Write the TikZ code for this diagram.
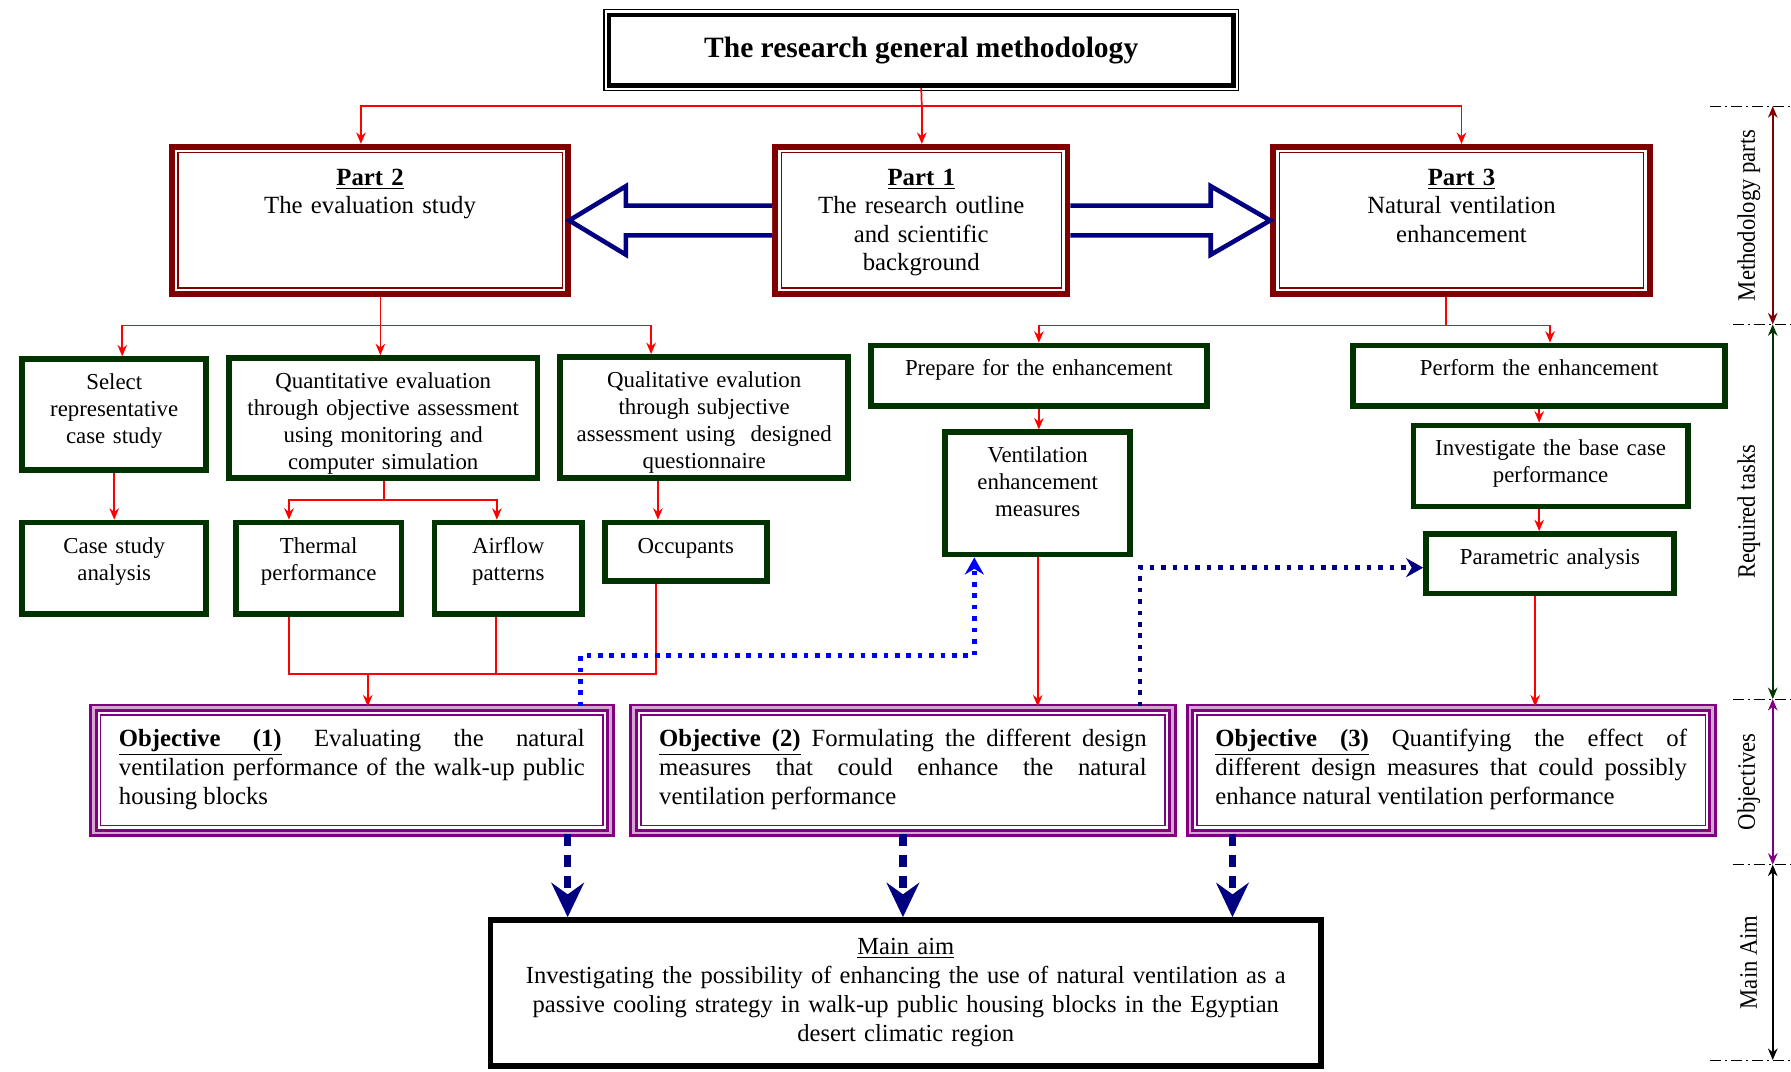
\documentclass[tikz,border=0pt]{standalone}
\usepackage{fontspec}
\setmainfont{Liberation Serif}
\newfontfamily\sidefont[FakeStretch=0.9]{Liberation Serif}
\usetikzlibrary{arrows.meta,calc}

\definecolor{partred}{RGB}{128,0,0}
\definecolor{taskgreen}{RGB}{0,51,0}
\definecolor{objpurple}{RGB}{128,0,128}
\definecolor{arrnavy}{RGB}{0,0,128}
\definecolor{linkred}{RGB}{255,0,0}
\definecolor{dotblue}{RGB}{0,0,255}

% underlined stretchable gap inside "Objective (n)"
\newcommand{\ulgap}{\leaders\hbox{\underline{\vphantom{(j}\hskip0.1pt}}%
    \hskip\fontdimen2\font plus\fontdimen3\font minus\fontdimen4\font}
\newcommand{\objtag}[1]{\textbf{\underline{Objective\vphantom{(}}\ulgap\underline{(#1)\vphantom{j}}}}

\tikzset{
    titlebox/.style={draw=black, line width=2.4pt, inner sep=0pt,
        font=\fontsize{15.5}{18}\selectfont\bfseries},
    partbox/.style={draw=partred, line width=3pt, inner sep=0pt, align=center,
        font=\fontsize{13}{15}\selectfont, text height=20.2pt,
        path picture={\draw[partred, line width=0.6pt]
            ([shift={(3.2pt,-3.2pt)}]path picture bounding box.north west) rectangle
            ([shift={(-3.2pt,3.2pt)}]path picture bounding box.south east);}},
    taskbox/.style={draw=taskgreen, line width=3pt, inner sep=0pt, align=center,
        font=\fontsize{12}{14.2}\selectfont, text height=16pt},
    objbox/.style={draw=objpurple, line width=1.5pt, double=objpurple!35, double distance=1.5pt,
        inner xsep=13.4pt, inner ysep=0pt, align=justify,
        font=\fontsize{13}{15.3}\selectfont, text height=20.3pt,
        path picture={\draw[objpurple, line width=0.8pt]
            ([shift={(3.8pt,-3.8pt)}]path picture bounding box.north west) rectangle
            ([shift={(-3.8pt,3.8pt)}]path picture bounding box.south east);}},
    aimbox/.style={draw=black, line width=3pt, inner sep=0pt, align=center,
        font=\fontsize{12.9}{15.2}\selectfont, text height=18pt},
    sz/.style 2 args={text width=#1, text depth=#2},
    link/.style={draw=linkred, line width=0.9pt},
    linkarr/.style={link, -{Stealth[length=6pt,width=5pt]}},
    hollow/.style={draw=arrnavy, line width=2.4pt, fill=white, line join=miter},
    dotlink/.style={line width=2.4pt, dash pattern=on 2.4pt off 3.6pt,
        -{Stealth[length=9pt,width=10pt,inset=3pt]}},
    aimlink/.style={draw=arrnavy, line width=4pt, dash pattern=on 6pt off 5pt,
        -{Stealth[length=18pt,width=17pt,inset=6pt]}},
    sidearr/.style={line width=1.2pt,
        {Stealth[length=6pt,width=5pt]}-{Stealth[length=6pt,width=5pt]}},
    sidelbl/.style={rotate=90, inner sep=0pt, font=\sidefont\fontsize{13.2}{15}\selectfont},
    level/.style={draw=black, line width=0.5pt, dash pattern=on 6pt off 2pt on 1pt off 2pt},
}

\begin{document}
\begin{tikzpicture}[x=0.6pt, y=-0.6pt]

    \fill[white] (0,0) rectangle (1568,938);
    \useasboundingbox (0,0) rectangle (1568,938);

    % Title
    \node[titlebox, minimum width=328pt, minimum height=37.2pt] (title) at (806.5,44)
        {The research general methodology};
    \draw[line width=0.6pt] ([shift={(-1.4pt,1.4pt)}]title.north west)
        rectangle ([shift={(1.4pt,-1.4pt)}]title.south east);

    % Methodology parts
    \node[partbox, sz={208.2pt}{57.2pt}] (p2) at (324,193)
        {\textbf{\underline{Part 2}}\\The evaluation study};
    \node[partbox, sz={153.6pt}{57.2pt}] (p1) at (806.5,193)
        {\textbf{\underline{Part 1}}\\The research outline\\and scientific\\background};
    \node[partbox, sz={198pt}{57.2pt}] (p3) at (1279.5,193)
        {\textbf{\underline{Part 3}}\\Natural ventilation\\enhancement};

    % Required tasks
    \node[taskbox, sz={96.6pt}{42.2pt}] (sel) at (100,363) {Select\\representative\\case study};
    \node[taskbox, sz={162pt}{47pt}] (quant) at (335.5,366)
        {Quantitative evaluation\\through objective assessment\\using monitoring and\\computer simulation};
    \node[taskbox, sz={151.2pt}{47.6pt}] (qual) at (616.5,365.5)
        {Qualitative evalution\\through subjective\\assessment using\ \ designed\\questionnaire};
    \node[taskbox, sz={96.6pt}{32pt}] (case) at (100,497.5) {Case study\\analysis};
    \node[taskbox, sz={87pt}{32pt}] (therm) at (279,497.5) {Thermal\\performance};
    \node[taskbox, sz={77.4pt}{32pt}] (air) at (445,497.5) {Airflow\\patterns};
    \node[taskbox, sz={85.2pt}{14.6pt}] (occ) at (600.5,483) {Occupants};
    \node[taskbox, sz={176.4pt}{15.8pt}] (prep) at (909.5,329) {Prepare for the enhancement};
    \node[taskbox, sz={97.2pt}{48.2pt}] (vent) at (908.5,432) {Ventilation\\enhancement\\measures};
    \node[taskbox, sz={195.6pt}{15.8pt}] (perf) at (1347.5,329) {Perform the enhancement};
    \node[taskbox, sz={144pt}{26.6pt}] (inv) at (1357.5,408) {Investigate the base case\\performance};
    \node[taskbox, sz={130.2pt}{15.2pt}] (par) at (1357,493.5) {Parametric analysis};

    % Objectives
    \node[objbox, sz={244.7pt}{45.4pt}] (obj1) at (308,674.5)
        {\objtag{1} Evaluating the natural\linebreak
        ventilation performance of the walk-up public\linebreak housing blocks};
    \node[objbox, sz={256.1pt}{45.4pt}] (obj2) at (790.5,674.5)
        {\objtag{2} Formulating the different design\linebreak
        measures that could enhance the natural\linebreak ventilation performance};
    \node[objbox, sz={247.7pt}{45.4pt}] (obj3) at (1270.5,674.5)
        {\objtag{3} Quantifying the effect of\linebreak
        different design measures that could possibly\linebreak enhance natural ventilation performance};

    % Main aim
    \node[aimbox, sz={436.2pt}{58.8pt}] (aim) at (793,869.5)
        {\underline{Main aim}\\Investigating the possibility of enhancing the use of natural ventilation as a\\
        passive cooling strategy in walk-up public housing blocks in the Egyptian\\desert climatic region};

    % Red links: title to parts
    \coordinate (tj) at (807,93);
    \draw[link] (title.south) -- (tj);
    \draw[linkarr] (tj) -| ([xshift=-4.8pt]p2.north);
    \draw[linkarr] (tj) -- (tj |- p1.north);
    \draw[linkarr] (tj) -| (p3.north);

    % Red links: part 2 tasks
    \coordinate (j2) at (333,285);
    \draw[link] (j2 |- p2.south) -- (j2);
    \draw[linkarr] (j2) -| ([xshift=4.2pt]sel.north);
    \draw[linkarr] (j2) -- (j2 |- quant.north);
    \draw[linkarr] (j2) -| ([xshift=-27.9pt]qual.north);
    \draw[linkarr] (sel) -- (case);
    \coordinate (jq) at (336,438);
    \draw[link] (jq |- quant.south) -- (jq);
    \draw[linkarr] (jq) -| ([xshift=-15.6pt]therm.north);
    \draw[linkarr] (jq) -| ([xshift=-6pt]air.north);
    \draw[linkarr] ([xshift=-24.3pt]qual.south) -- ([xshift=-24.3pt]qual.south |- occ.north);

    % Red links: part 3 tasks
    \coordinate (j3) at (1266,285);
    \draw[link] (j3 |- p3.south) -- (j3);
    \draw[linkarr] (j3) -| (prep.north);
    \draw[linkarr] (j3) -| ([xshift=5.7pt]perf.north);
    \draw[linkarr] (prep.south) -- (prep.south |- vent.north);
    \draw[linkarr] (perf.south) -- (perf.south |- inv.north);
    \draw[linkarr] ([xshift=-6pt]inv.south) -- ([xshift=-6pt]inv.south |- par.north);

    % Red links: tasks to objectives
    \coordinate (jo) at (322,590);
    \draw[link] ([xshift=-15.6pt]therm.south) |- (jo);
    \draw[link] ([xshift=-15.9pt]occ.south) |- (jo);
    \draw[link] ([xshift=-6.6pt]air.south) -- ([xshift=-6.6pt]air.south |- jo);
    \draw[linkarr] (jo) -- (jo |- obj1.north);
    \draw[linkarr] (vent.south) -- (vent.south |- obj2.north);
    \draw[linkarr] ([xshift=-7.8pt]par.south) -- ([xshift=-7.8pt]par.south |- obj3.north);

    % Hollow arrows between parts
    \draw[hollow] ([yshift=7.8pt]p1.west) -- ([shift={(28.8pt,7.8pt)}]p2.east)
        -- ([shift={(28.8pt,18pt)}]p2.east) -- ([xshift=-1pt]p2.east)
        -- ([shift={(28.8pt,-18pt)}]p2.east) -- ([shift={(28.8pt,-7.8pt)}]p2.east)
        -- ([yshift=-7.8pt]p1.west);
    \draw[hollow] ([yshift=7.8pt]p1.east) -- ([shift={(-31.2pt,7.8pt)}]p3.west)
        -- ([shift={(-31.2pt,18pt)}]p3.west) -- (p3.west)
        -- ([shift={(-31.2pt,-18pt)}]p3.west) -- ([shift={(-31.2pt,-7.8pt)}]p3.west)
        -- ([yshift=-7.8pt]p1.east);

    % Dotted feedback links
    \coordinate (d1) at (853,574);
    \draw[dotlink, color=dotblue] ([xshift=120pt]obj1.north) |- (d1) -- (d1 |- vent.south);
    \draw[dotlink, color=arrnavy] ([xshift=124.5pt]obj2.north) |- ([yshift=-2.1pt]par.west);

    % Objectives to main aim
    \draw[aimlink] ([xshift=113.4pt]obj1.south) -- ([xshift=113.4pt]obj1.south |- aim.north);
    \draw[aimlink] (obj2.south) -- (obj2.south |- aim.north);
    \draw[aimlink] ([xshift=-114.9pt]obj3.south) -- ([xshift=-114.9pt]obj3.south |- aim.north);

    % Side scale
    \coordinate (s0) at (1552,93);
    \coordinate (s1) at (1552,284);
    \coordinate (s2) at (1552,612);
    \coordinate (s3) at (1552,757);
    \coordinate (s4) at (1552,928);
    \draw[level] ([xshift=-33pt]s0) -- ([xshift=9.6pt]s0);
    \draw[level] ([xshift=-21pt]s1) -- ([xshift=9.6pt]s1);
    \draw[level] ([xshift=-21pt]s2) -- ([xshift=9.6pt]s2);
    \draw[level] ([xshift=-21pt]s3) -- ([xshift=9.6pt]s3);
    \draw[level] ([xshift=-33pt]s4) -- ([xshift=9.6pt]s4);
    \draw[sidearr, partred] (s0) -- (s1);
    \draw[sidearr, taskgreen] (s1) -- (s2);
    \draw[sidearr, objpurple] (s2) -- (s3);
    \draw[sidearr, black] (s3) -- (s4);
    \node[sidelbl] (lmeth) at ($(s0)!0.5!(s1)+(-12.6pt,0)$) {Methodology parts};
    \node[sidelbl] (ltask) at ($(s1)!0.5!(s2)+(-12.6pt,0)$) {Required tasks};
    \node[sidelbl] (lobj) at ($(s2)!0.5!(s3)+(-12.6pt,0)$) {Objectives};
    \node[sidelbl] (laim) at ($(s3)!0.5!(s4)+(-12.6pt,0)$) {Main Aim};

\end{tikzpicture}
\end{document}
